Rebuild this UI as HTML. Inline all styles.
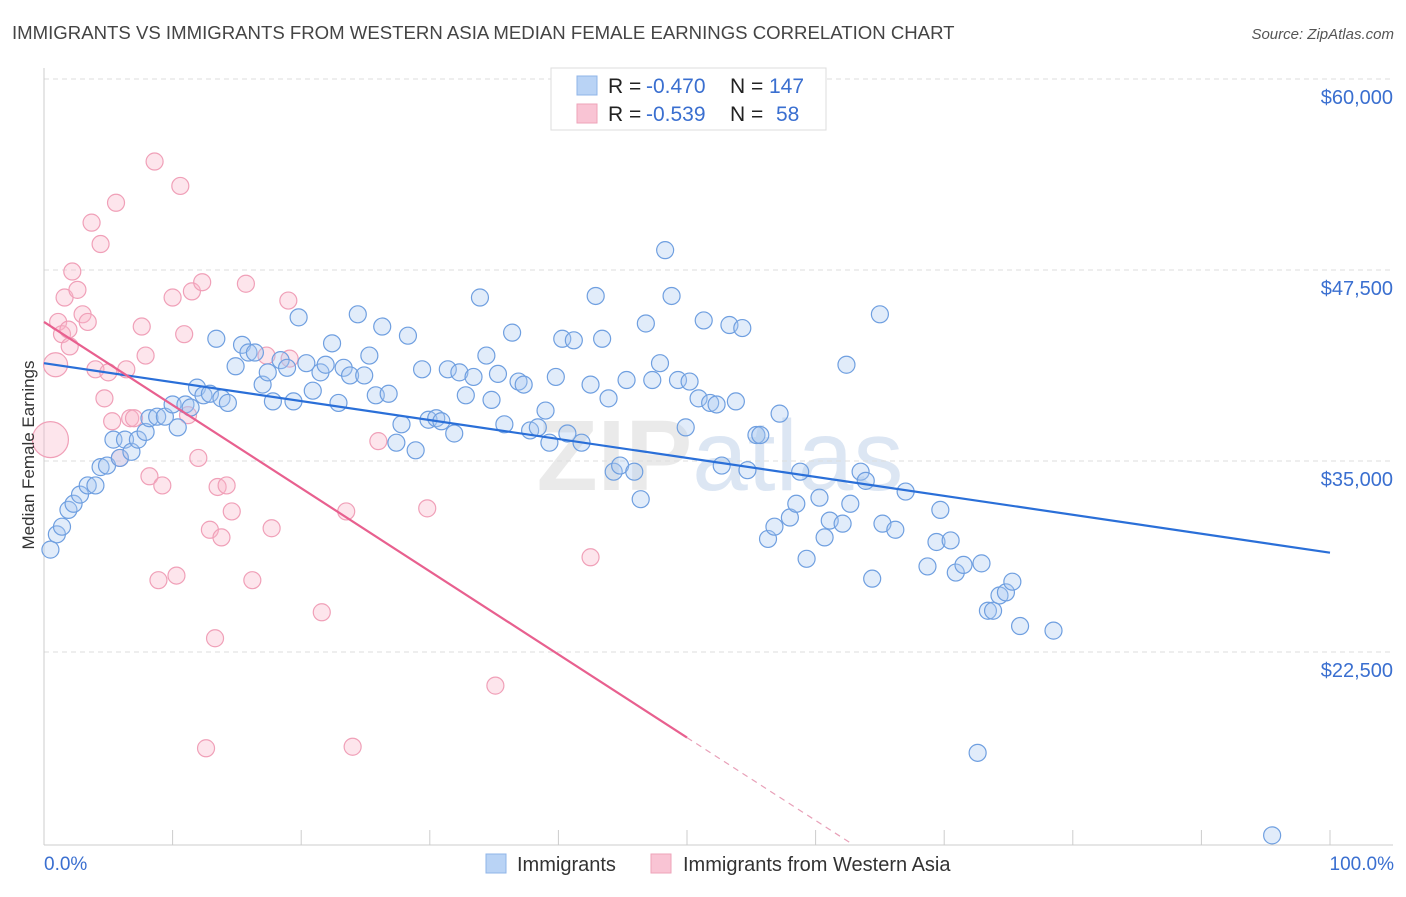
<!DOCTYPE html>
<html><head><meta charset="utf-8"><style>
body{margin:0;background:#fff;font-family:"Liberation Sans",sans-serif;}
svg text{font-family:"Liberation Sans",sans-serif;}
</style></head><body>
<svg id="chart" width="1406" height="892" xmlns="http://www.w3.org/2000/svg">
<text x="12" y="39" font-size="18.6" fill="#444">IMMIGRANTS VS IMMIGRANTS FROM WESTERN ASIA MEDIAN FEMALE EARNINGS CORRELATION CHART</text>
<text x="1394" y="39" font-size="15" fill="#555" text-anchor="end" font-style="italic">Source: ZipAtlas.com</text>
<text x="720" y="490" font-size="100" fill="#ddd" text-anchor="middle" font-weight="bold" opacity="0.6">ZIP<tspan fill="#c5d6ec" font-weight="normal">atlas</tspan></text>
<g id="grid"></g>
<g id="axes"></g>
<g id="marks"></g>
<text x="34" y="455" font-size="17" fill="#333" text-anchor="middle" transform="rotate(-90 34 455)">Median Female Earnings</text>
<g>
<rect x="551" y="68" width="275" height="62" fill="#fff" stroke="#ddd"/>
<rect x="577" y="76" width="20" height="19" fill="#b9d3f5" stroke="#8fb4e8"/>
<rect x="577" y="104" width="20" height="19" fill="#f9c4d4" stroke="#eea3b9"/>
<text x="608" y="93" font-size="21" fill="#222">R = <tspan fill="#3a6fd0" x="646">-0.470</tspan><tspan x="730">N = </tspan><tspan fill="#3a6fd0" x="769">147</tspan></text>
<text x="608" y="121" font-size="21" fill="#222">R = <tspan fill="#3a6fd0" x="646">-0.539</tspan><tspan x="730">N = </tspan><tspan fill="#3a6fd0" x="776">58</tspan></text>
</g>
<g>
<rect x="486" y="854" width="20" height="19" fill="#b9d3f5" stroke="#8fb4e8"/>
<text x="517" y="871" font-size="20" fill="#333">Immigrants</text>
<rect x="651" y="854" width="20" height="19" fill="#f9c4d4" stroke="#eea3b9"/>
<text x="683" y="871" font-size="20" fill="#333">Immigrants from Western Asia</text>
</g>
</svg>
<script>
const yTicks=[22500,35000,47500,60000];
const yTickLabels=["$22,500","$35,000","$47,500","$60,000"];
const xTickVals=[0,10,20,30,40,50,60,70,80,90,100];
const blueX=[0.5,1.0,1.4,1.9,2.3,2.8,3.4,4.0,4.4,4.9,5.4,5.9,6.3,6.8,7.3,7.9,8.2,8.8,9.4,10.0,10.4,11.0,11.4,11.9,12.4,12.9,13.4,13.8,14.3,14.9,15.4,15.9,16.4,17.0,17.4,17.8,18.4,18.9,19.4,19.8,20.4,20.9,21.5,21.9,22.4,22.9,23.3,23.8,24.4,24.9,25.3,25.8,26.3,26.8,27.4,27.8,28.3,28.9,29.4,29.9,30.5,30.9,31.4,31.9,32.3,32.8,33.4,33.9,34.4,34.8,35.3,35.8,36.4,36.9,37.3,37.8,38.4,39.0,39.3,39.8,40.3,40.7,41.2,41.8,42.5,42.9,43.4,43.9,44.3,44.8,45.3,45.9,46.4,46.8,47.3,47.9,48.3,48.8,49.3,49.9,50.2,50.9,51.3,51.8,52.3,52.7,53.3,53.8,54.3,54.7,55.4,55.7,56.3,56.8,57.2,58.0,58.5,58.8,59.3,60.3,60.7,61.1,62.1,62.4,62.7,63.5,63.9,64.4,65.0,65.2,66.2,67.0,68.7,69.4,69.7,70.5,70.9,71.5,72.9,73.4,73.8,74.3,74.8,75.3,75.9,78.5,72.6,95.5];
const blueY=[29.2,30.2,30.7,31.8,32.2,32.8,33.4,33.4,34.6,34.7,36.4,35.2,36.4,35.6,36.4,36.9,37.8,37.9,37.9,38.7,37.2,38.7,38.5,39.8,39.3,39.4,43.0,39.1,38.8,41.2,42.6,42.1,42.1,40.0,40.8,38.9,41.6,41.1,38.9,44.4,41.4,39.6,40.8,41.3,42.7,38.8,41.1,40.6,44.6,40.6,41.9,39.3,43.8,39.4,36.2,37.4,43.2,35.7,41.0,37.7,37.8,37.6,41.0,36.8,40.8,39.3,40.5,45.7,41.9,39.0,40.7,37.4,43.4,40.2,40.0,37.0,37.2,38.3,36.2,40.5,43.0,36.8,42.9,36.2,40.0,45.8,43.0,39.1,34.3,34.7,40.3,34.3,32.5,44.0,40.3,41.4,48.8,45.8,40.3,37.2,40.2,39.1,44.2,38.8,38.7,34.7,43.9,38.9,43.7,34.4,36.7,36.7,29.9,30.7,38.1,31.3,32.2,34.3,28.6,32.6,30.0,31.1,30.9,41.3,32.2,34.3,33.7,27.3,44.6,30.9,30.5,33.0,28.1,29.7,31.8,29.8,27.7,28.2,28.3,25.2,25.2,26.2,26.4,27.1,24.2,23.9,15.9,10.5];
const pinkX=[0.5,0.9,1.1,1.4,1.6,1.9,2.0,2.2,2.6,3.0,3.4,3.7,4.0,4.4,4.7,5.0,5.3,5.6,5.9,6.4,6.7,7.0,7.6,7.9,8.2,8.6,8.9,9.2,10.0,10.3,10.6,10.9,11.2,11.5,12.0,12.3,12.6,12.9,13.3,13.5,13.8,14.2,14.6,15.7,16.2,17.3,17.7,19.0,19.1,21.6,23.5,24.0,26.0,29.8,35.1,42.5];
const pinkY=[36.4,41.3,44.1,43.3,45.7,43.6,42.5,47.4,46.2,44.6,44.1,50.6,41.0,49.2,39.1,40.8,37.6,51.9,35.2,41.0,37.8,37.8,43.8,41.9,34.0,54.6,27.2,33.4,45.7,27.5,53.0,43.3,38.0,46.1,35.2,46.7,16.2,30.5,23.4,33.3,30.0,33.4,31.7,46.6,27.2,41.9,30.6,45.5,41.7,25.1,31.7,16.3,36.3,31.9,20.3,28.7];
const blueTrend=[41.4,29.0];
const pinkTrend=[44.1,16.9];
const pinkTrendDashEnd=[62.9,9.9];

const X0=44,X1=1330,YTOP=79;
function sx(p){return X0+(X1-X0)*p/100;}
function sy(k){return YTOP+(60-k)*191/12.5;}
function syv(v){return sy(v/1000);}
const NS="http://www.w3.org/2000/svg";
function mk(tag,attrs,parent){const e=document.createElementNS(NS,tag);for(const k in attrs)e.setAttribute(k,attrs[k]);parent.appendChild(e);return e;}
const grid=document.getElementById('grid'),axes=document.getElementById('axes'),marks=document.getElementById('marks');
yTicks.forEach((v,i)=>{
  const g=mk('line',{x1:44,x2:1393,y1:syv(v),y2:syv(v),stroke:'#ddd','stroke-dasharray':'5,4'},grid);
  
  
  const t=mk('text',{x:1393,y:syv(v)+25,'font-size':20,fill:'#3a6fd0','text-anchor':'end'},axes);
  t.textContent=yTickLabels[i];
  
  
});
const ax=mk('line',{x1:44,x2:1393,y1:845,y2:845,stroke:'#ccc'},axes);


const yax=mk('line',{x1:44,x2:44,y1:68,y2:845,stroke:'#ccc'},axes);


xTickVals.forEach(v=>{
  const t=mk('line',{x1:sx(v),x2:sx(v),y1:830,y2:845,stroke:'#ccc'},axes);
  
  
});
const xl0=mk('text',{x:44,y:870,'font-size':19,fill:'#3a6fd0'},axes);xl0.textContent='0.0%';


const xl1=mk('text',{x:1394,y:870,'font-size':19,fill:'#3a6fd0','text-anchor':'end'},axes);xl1.textContent='100.0%';



pinkX.forEach((x,i)=>{
  const c=mk('circle',{cx:sx(x),cy:sy(pinkY[i]),r:i<2?(i==0?18:12):8.5,fill:'rgba(248,180,200,0.35)',stroke:'#f0a0b8','stroke-width':1.2},marks);
  
  
});
blueX.forEach((x,i)=>{
  const c=mk('circle',{cx:sx(x),cy:sy(blueY[i]),r:8.5,fill:'rgba(170,200,240,0.35)',stroke:'#6f9fe0','stroke-width':1.2},marks);
  
  
});
const bl=mk('line',{x1:sx(0),y1:sy(blueTrend[0]),x2:sx(100),y2:sy(blueTrend[1]),stroke:'#2a6fd8','stroke-width':2.2},marks);


const pl=mk('line',{x1:sx(0),y1:sy(pinkTrend[0]),x2:sx(50),y2:sy(pinkTrend[1]),stroke:'#e8608f','stroke-width':2.2},marks);


const pd=mk('line',{x1:sx(50),y1:sy(pinkTrend[1]),x2:sx(pinkTrendDashEnd[0]),y2:sy(pinkTrendDashEnd[1]),stroke:'#e8a0b8','stroke-width':1.2,'stroke-dasharray':'6,5'},marks);


</script>
</body></html>
